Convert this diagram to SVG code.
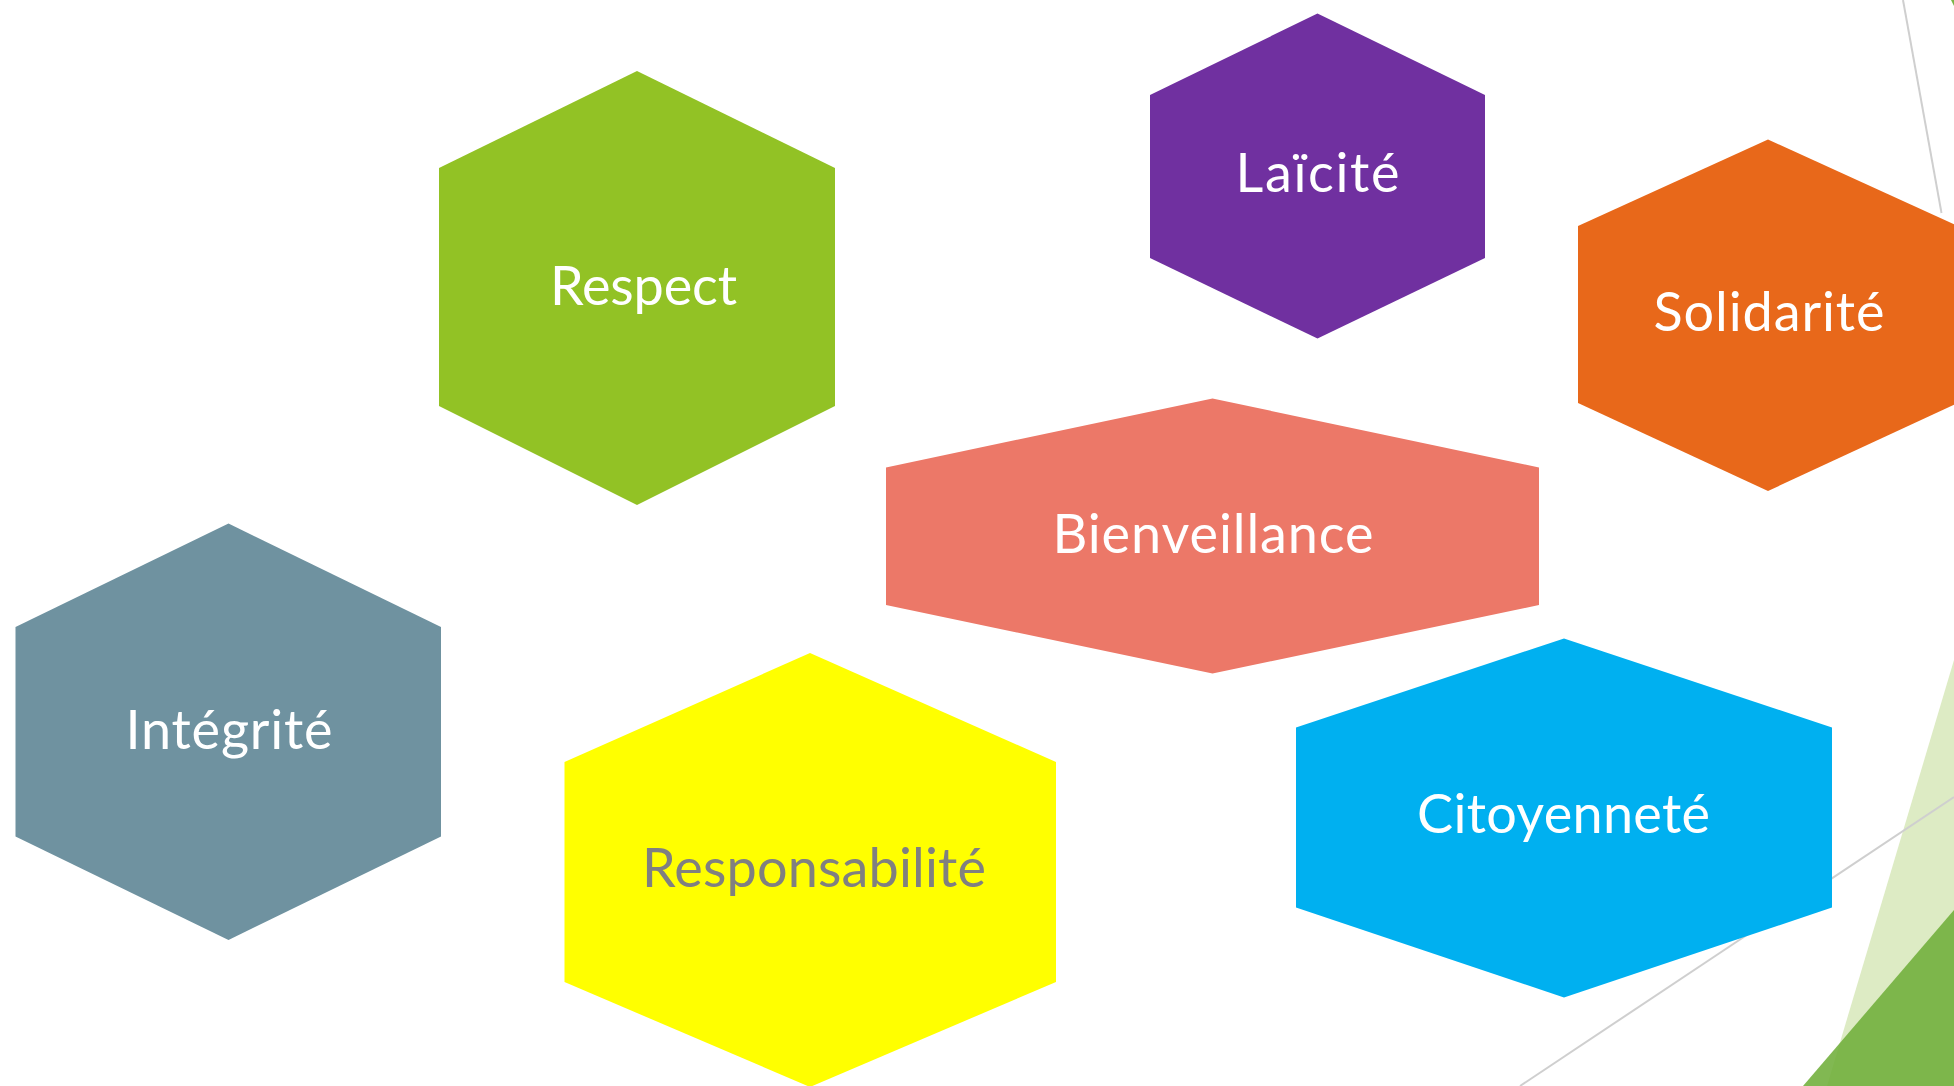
<svg xmlns="http://www.w3.org/2000/svg" width="1954" height="1086" viewBox="0 0 1954 1086">
<style>
.lbl{font-family:Lato,"Liberation Sans",sans-serif;font-size:54px;fill:#FFFFFF;text-anchor:middle}
.gray{fill:#808080}
.deco{stroke:#CFCFCF;stroke-width:2;fill:none}
</style>
<rect width="1954" height="1086" fill="#FFFFFF"/>
<g id="decor">
<polygon points="1954,660 1954,1086 1827,1086" fill="#DDEBC4"/>
<polygon points="1803,1086 1954,910 1954,1086" fill="#6FAE3A" fill-opacity="0.88"/>
<polygon points="1951,0 1954,0 1954,6" fill="#7AB648"/>
</g>
<g id="connectors">
<line class="deco" x1="1520" y1="1086" x2="1954" y2="797"/>
<line class="deco" x1="1903" y1="0" x2="1941.5" y2="213"/>
</g>
<g id="respect">
<polygon points="637,71 835,168 835,406 637,505 439,406 439,168" fill="#92C225"/>
<text class="lbl" x="643.5" y="305" textLength="187">Respect</text>
</g>
<g id="laicite">
<polygon points="1317.5,13.5 1485,95 1485,258 1317.5,338.5 1150,258 1150,95" fill="#7030A0"/>
<text class="lbl" x="1317.5" y="192" textLength="164">Laïcité</text>
</g>
<g id="solidarite">
<polygon points="1768,139.5 1958,226 1958,403 1768,491 1578,403 1578,226" fill="#E8681A"/>
<text class="lbl" x="1769" y="331" textLength="231">Solidarité</text>
</g>
<g id="bienveillance">
<polygon points="1212.5,398.5 1539,467.5 1539,605 1212.5,673.5 886,605 886,467.5" fill="#EC7868"/>
<text class="lbl" x="1213" y="553" textLength="321">Bienveillance</text>
</g>
<g id="integrite">
<polygon points="228.5,523.5 441,627 441,836.5 228.5,940 15.5,836.5 15.5,627" fill="#6F92A0"/>
<text class="lbl" x="229" y="749" textLength="207">Intégrité</text>
</g>
<g id="responsabilite">
<polygon points="810,653 1056,762 1056,982 810,1087 564.5,982 564.5,762" fill="#FFFF00"/>
<text class="lbl gray" x="814" y="887" textLength="344">Responsabilité</text>
</g>
<g id="citoyennete">
<polygon points="1564,638.5 1832,727.5 1832,907.5 1564,997.5 1296,907.5 1296,727.5" fill="#00B0F0"/>
<text class="lbl" x="1563.5" y="833" textLength="293">Citoyenneté</text>
</g>
</svg>
